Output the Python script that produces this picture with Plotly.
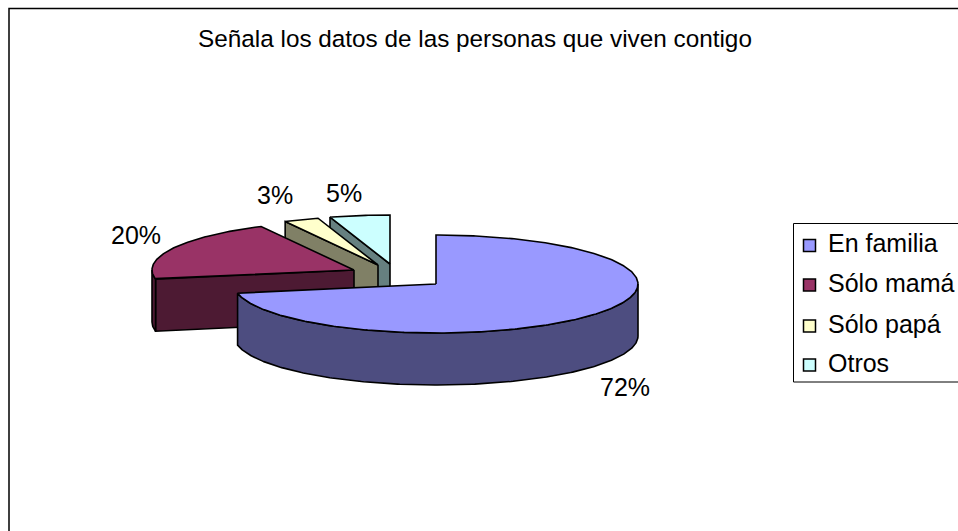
import math
import plotly.graph_objects as go

# ---- data ----
categories = ["En familia", "Sólo mamá", "Sólo papá", "Otros"]
values = [72, 20.4, 2.8, 4.8]
labels = ["72%", "20%", "3%", "5%"]
title_text = "Señala los datos de las personas que viven contigo"

# ---- styles ----
top_colors = ["#9999FF", "#993366", "#FFFFCC", "#CCFFFF"]
wall_colors = ["#4D4D80", "#4D1A33", "#808066", "#668080"]
FONT = "Liberation Sans, Arial, sans-serif"
W, H = 958, 531

# ---- pie geometry (axis units: 1 x unit = pie radius, 1 y unit = foreshortened radius) ----
RX_PX, RY_PX = 202.0, 49.0
CX_PX, CY_PX = 436.0, 284.0
DEPTH = 52.0 / RY_PX
explode_px = [(0, 0), (-82, -14), (-58, -19), (-46, -20)]
label_px = [(625, 387), (135.5, 235), (274.5, 195), (344, 193)]


def ux(px):
    return (px - CX_PX) / RX_PX


def uy(px):
    return (CY_PX - px) / RY_PX


def arc(a0, a1, ox, oy, dz=0.0):
    n = max(2, int(abs(a1 - a0) * 1.5))
    pts = [a0 + (a1 - a0) * i / n for i in range(n + 1)]
    return ([ox + math.sin(math.radians(a)) for a in pts],
            [oy + math.cos(math.radians(a)) - dz for a in pts])


def poly(xs, ys, fill):
    return go.Scatter(x=xs + xs[:1], y=ys + ys[:1], mode="lines", fill="toself",
                      fillcolor=fill, line=dict(color="black", width=1.6),
                      hoverinfo="skip", showlegend=False)


total = sum(values)
angles = [0.0]
for v in values:
    angles.append(angles[-1] + v / total * 360)

traces = []
for i in reversed(range(len(values))):
    a0, a1 = angles[i], angles[i + 1]
    ox, oy = explode_px[i][0] / RX_PX, -explode_px[i][1] / RY_PX
    # radial wall on the viewer side
    if 180 < a0 < 360:
        ex, ey = arc(a0, a0, ox, oy)
        ex, ey = ex[0], ey[0]
        traces.append(poly([ox, ex, ex, ox], [oy, ey, ey - DEPTH, oy - DEPTH], wall_colors[i]))
    # outer wall on the viewer side
    lo, hi = max(a0, 90.0), min(a1, 270.0)
    if hi > lo:
        tx, ty = arc(lo, hi, ox, oy)
        bx, by = arc(hi, lo, ox, oy, DEPTH)
        traces.append(poly(tx + bx, ty + by, wall_colors[i]))
    # top face
    tx, ty = arc(a0, a1, ox, oy)
    traces.append(poly([ox] + tx, [oy] + ty, top_colors[i]))

fig = go.Figure(traces)

annotations = []
for text, (px, py) in zip(labels, label_px):
    annotations.append(dict(x=ux(px), y=uy(py), xref="x", yref="y", text=text, showarrow=False,
                            xanchor="center", yanchor="middle",
                            font=dict(family=FONT, size=25, color="black")))

# chart frame and legend (paper coordinates)
def fx(px):
    return px / W


def fy(py):
    return 1 - py / H


shapes = [
    dict(type="rect", xref="paper", yref="paper", x0=fx(9), x1=fx(W + 10), y0=fy(H + 10), y1=fy(8.5),
         line=dict(color="black", width=1.5), fillcolor="rgba(0,0,0,0)", layer="below"),
    dict(type="rect", xref="paper", yref="paper", x0=fx(793.5), x1=fx(W + 10), y0=fy(382), y1=fy(223.5),
         line=dict(color="black", width=1), fillcolor="white", layer="below"),
]
legend_y = [245.5, 285, 326, 365]
for name, color, ly in zip(categories, top_colors, legend_y):
    shapes.append(dict(type="rect", xref="paper", yref="paper", x0=fx(803.5), x1=fx(815.5),
                       y0=fy(ly + 6), y1=fy(ly - 6), fillcolor=color,
                       line=dict(color="black", width=1.5)))
    annotations.append(dict(x=fx(826), y=fy(ly - 2.5), xref="paper", yref="paper", text=name,
                            showarrow=False, xanchor="left", yanchor="middle", xshift=0,
                            font=dict(family=FONT, size=25, color="black")))

fig.update_layout(
    width=W, height=H, margin=dict(l=0, r=0, t=0, b=0), autosize=False,
    paper_bgcolor="white", plot_bgcolor="rgba(0,0,0,0)", showlegend=False,
    title=dict(text=title_text, x=475 / W, y=1 - 38 / H, xanchor="center", yanchor="middle",
               font=dict(family=FONT, size=24.3, color="black")),
    xaxis=dict(range=[ux(0), ux(W)], visible=False, fixedrange=True),
    yaxis=dict(range=[uy(H), uy(0)], visible=False, fixedrange=True),
    shapes=shapes, annotations=annotations,
)
fig.write_html("out.html", config={"displayModeBar": False},
               post_script="document.body.style.margin='0';document.documentElement.style.overflow='hidden';")
